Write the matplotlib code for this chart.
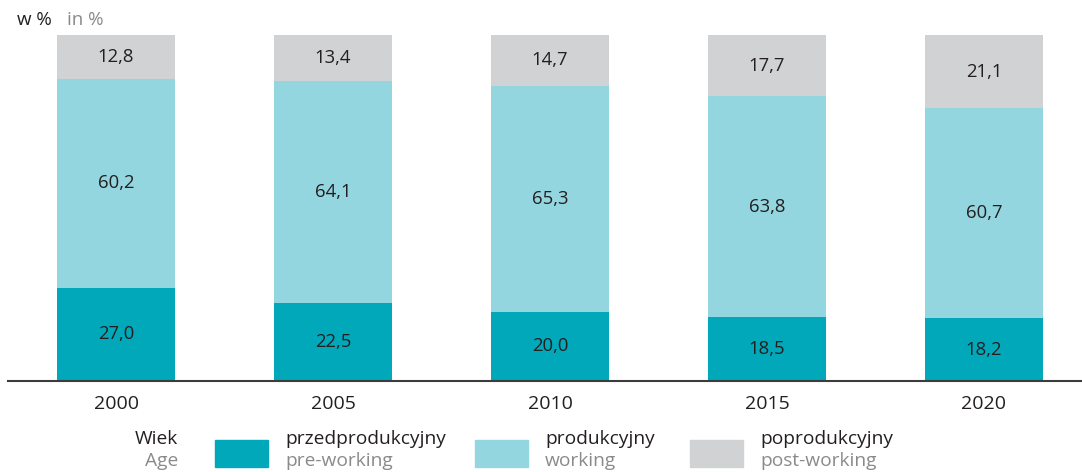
import matplotlib.pyplot as plt
from matplotlib.patches import Rectangle

plt.rcParams['font.family'] = ['Open Sans', 'DejaVu Sans']

years = ["2000", "2005", "2010", "2015", "2020"]
pre_working = [27.0, 22.5, 20.0, 18.5, 18.2]
working = [60.2, 64.1, 65.3, 63.8, 60.7]
post_working = [12.8, 13.4, 14.7, 17.7, 21.1]

PRE_COLOR = "#00a8ba"
WORK_COLOR = "#94d6df"
POST_COLOR = "#d1d2d4"
TEXT_COLOR = "#231f20"
GRAY_TEXT = "#8a8a8c"

W, H = 1082, 472
fig = plt.figure(figsize=(W / 100, H / 100), dpi=100)
ax = fig.add_axes([8 / W, 91 / H, 1074 / W, 346 / H])

x = list(range(len(years)))
width = 0.544
bottoms_work = pre_working
bottoms_post = [a + b for a, b in zip(pre_working, working)]

ax.bar(x, pre_working, width=width, color=PRE_COLOR)
ax.bar(x, working, width=width, bottom=bottoms_work, color=WORK_COLOR)
ax.bar(x, post_working, width=width, bottom=bottoms_post, color=POST_COLOR)

for i in x:
    for val, bot in ((pre_working[i], 0), (working[i], bottoms_work[i]), (post_working[i], bottoms_post[i])):
        ax.text(i, bot + val / 2, f"{val:.1f}".replace(".", ","), ha="center", va="center",
                fontsize=13.3, color=TEXT_COLOR)

ax.set_xlim(-0.498, 4.452)
ax.set_ylim(0, 100)
for side in ("top", "right", "left"):
    ax.spines[side].set_visible(False)
ax.spines["bottom"].set_color("#3c3c3c")
ax.spines["bottom"].set_linewidth(1.5)
ax.set_yticks([])
ax.set_xticks(x)
ax.set_xticklabels(years, fontsize=14, color=TEXT_COLOR)
ax.tick_params(axis="x", length=0, pad=10)

# unit labels
fig.text(17 / W, 1 - 20 / H, "w %", fontsize=13.5, color=TEXT_COLOR, va="center")
fig.text(67 / W, 1 - 20 / H, "in %", fontsize=13.5, color=GRAY_TEXT, va="center")

# legend
fig.text(178 / W, 1 - 439 / H, "Wiek", fontsize=13.8, color=TEXT_COLOR, va="center", ha="right")
fig.text(178 / W, 1 - 461 / H, "Age", fontsize=13.8, color=GRAY_TEXT, va="center", ha="right")
items = [(215, PRE_COLOR, "przedprodukcyjny", "pre-working"),
         (475, WORK_COLOR, "produkcyjny", "working"),
         (690, POST_COLOR, "poprodukcyjny", "post-working")]
for px, col, pl, en in items:
    fig.patches.append(Rectangle((px / W, 1 - 467 / H), 53 / W, 27 / H,
                                 transform=fig.transFigure, color=col))
    fig.text((px + 70) / W, 1 - 439 / H, pl, fontsize=13.8, color=TEXT_COLOR, va="center")
    fig.text((px + 70) / W, 1 - 461 / H, en, fontsize=13.8, color=GRAY_TEXT, va="center")

fig.savefig("out.png", dpi=100)
